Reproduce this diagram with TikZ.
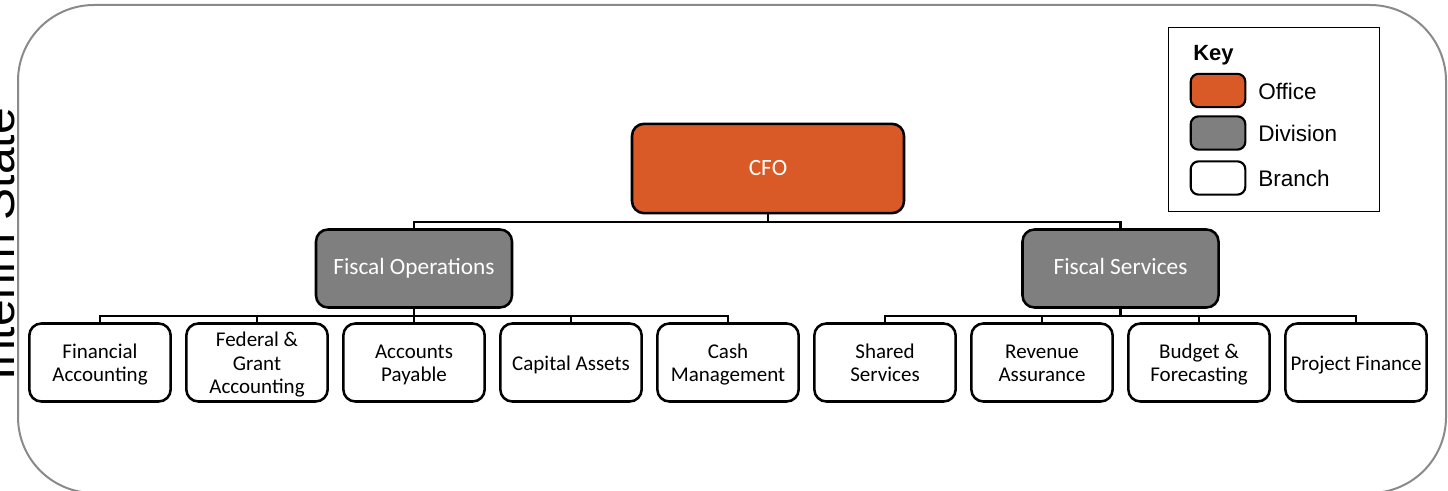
\documentclass[tikz,border=0pt]{standalone}
\usepackage{fontspec}
\setmainfont{Carlito}
\newfontfamily\arialf{Liberation Sans}
\definecolor{officec}{HTML}{D95A27}
\definecolor{divisionc}{HTML}{7F7F7F}
\definecolor{framec}{HTML}{8A8A8A}
\newcommand{\tpstrut}{\rule{0pt}{16.5pt}}
\begin{document}
\begin{tikzpicture}[x=0.75pt,y=-0.75pt,
  box/.style={draw=black, line width=1.9pt, rounded corners=9pt, align=center, inner sep=0pt},
  officebox/.style={box, fill=officec, text=white, minimum width=204pt, minimum height=67pt, font=\fontsize{17.5}{21}\selectfont},
  divbox/.style={box, fill=divisionc, text=white, minimum width=147pt, minimum height=58.5pt, font=\fontsize{17.5}{21}\selectfont},
  branchbox/.style={box, fill=white, minimum width=106pt, minimum height=58.5pt, font=\fontsize{15.75}{17.5}\selectfont},
  conn/.style={draw=black, line width=1.9pt},
  swatch/.style={draw=black, line width=1.6pt, rounded corners=6pt, minimum width=41pt, minimum height=25pt, inner sep=0pt},
  keylabel/.style={anchor=west, inner sep=0pt, font=\arialf\fontsize{16.9}{19}\selectfont}]
\clip (0,0) rectangle (1448,491);
% outer frame
\draw[framec, line width=1.5pt, rounded corners=57pt] (18,5) rectangle (1446,493);
% side label
\node[rotate=90, anchor=base, inner sep=0pt, font=\arialf\fontsize{36}{40}\selectfont] (state) at (14,244) {Interim State};
% key
\node[draw=black, line width=1.1pt, minimum width=158pt, minimum height=138pt, inner sep=0pt] (key) at (1274,119.5) {};
\node[anchor=west, inner sep=0pt, font=\arialf\bfseries\fontsize{16.5}{19}\selectfont] (keyt) at (1193,55) {Key};
\node[swatch, fill=officec] (k1) at (1218,90.5) {};
\node[swatch, fill=divisionc] (k2) at (1218,133) {};
\node[swatch, fill=white] (k3) at (1218,178) {};
\node[keylabel] (l1) at (1258,91) {Office};
\node[keylabel] (l2) at (1258,133) {Division};
\node[keylabel] (l3) at (1258,178) {Branch};
% hierarchy
\node[officebox] (cfo) at (768,168.5) {CFO};
\node[divbox] (fo) at (414,268.5) {\strut Fiscal Operations};
\node[divbox] (fs) at (1120.5,268.5) {\strut Fiscal Services};
\node[branchbox] (b1) at (100,362.5) {\tpstrut Financial\\\strut Accounting};
\node[branchbox] (b2) at (257,362.5) {\tpstrut Federal \&\\\strut Grant\\\strut Accounting};
\node[branchbox] (b3) at (414,362.5) {\tpstrut Accounts\\\strut Payable};
\node[branchbox] (b4) at (571,362.5) {\tpstrut\strut Capital Assets};
\node[branchbox] (b5) at (728,362.5) {\tpstrut Cash\\\strut Management};
\node[branchbox] (b6) at (885,362.5) {\tpstrut Shared\\\strut Services};
\node[branchbox] (b7) at (1042,362.5) {\tpstrut Revenue\\\strut Assurance};
\node[branchbox] (b8) at (1199,362.5) {\tpstrut Budget \&\\\strut Forecasting};
\node[branchbox] (b9) at (1356,362.5) {\tpstrut\strut Project Finance};
\coordinate (topbar) at (768,222);
\coordinate (lbar) at (414,316);
\coordinate (rbar) at (1120.5,316);
\draw[conn] (cfo.south) -- (topbar);
\draw[conn] (fo.north) |- (topbar) -| (fs.north);
\draw[conn] (fo.south) -- (lbar);
\draw[conn] (b1.north) |- (lbar) -| (b5.north);
\draw[conn] (b2.north) -- (b2.north |- lbar);
\draw[conn] (b3.north) -- (b3.north |- lbar);
\draw[conn] (b4.north) -- (b4.north |- lbar);
\draw[conn] (fs.south) -- (rbar);
\draw[conn] (b6.north) |- (rbar) -| (b9.north);
\draw[conn] (b7.north) -- (b7.north |- rbar);
\draw[conn] (b8.north) -- (b8.north |- rbar);
\end{tikzpicture}
\end{document}
